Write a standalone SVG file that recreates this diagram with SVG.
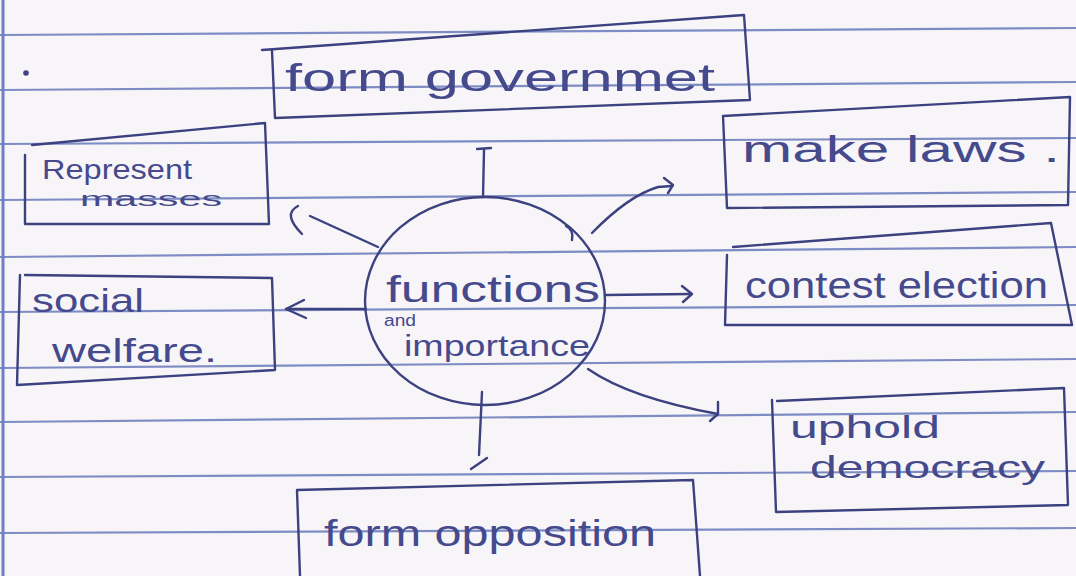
<svg xmlns="http://www.w3.org/2000/svg" width="1076" height="576" viewBox="0 0 1076 576">
  <defs>
    <style>
      .rule { stroke: #7e8cc4; stroke-width: 2.2; fill: none; }
      .ink { stroke: #3c417f; stroke-width: 2.4; fill: none; stroke-linecap: round; stroke-linejoin: round; }
      .txt { font-family: "Liberation Sans", "DejaVu Sans", sans-serif; fill: #454a8c; }
    </style>
  </defs>

  <!-- notebook page -->
  <rect width="1076" height="576" fill="#f8f5f9"/>
  <g id="ruling">
    <line class="rule" x1="0" y1="35" x2="1076" y2="28"/>
    <line class="rule" x1="0" y1="90" x2="1076" y2="82"/>
    <line class="rule" x1="0" y1="144" x2="1076" y2="138"/>
    <line class="rule" x1="0" y1="200" x2="1076" y2="192"/>
    <line class="rule" x1="0" y1="257" x2="1076" y2="247"/>
    <line class="rule" x1="0" y1="312" x2="1076" y2="305"/>
    <line class="rule" x1="0" y1="368" x2="1076" y2="359"/>
    <line class="rule" x1="0" y1="422" x2="1076" y2="412"/>
    <line class="rule" x1="0" y1="477" x2="1076" y2="471"/>
    <line class="rule" x1="0" y1="533" x2="1076" y2="528"/>
    <line x1="3" y1="0" x2="3" y2="576" stroke="#6f7fc4" stroke-width="3"/>
  </g>

  <circle cx="26" cy="73" r="2.8" fill="#3c417f"/>

  <!-- connectors -->
  <g id="connectors" class="ink">
    <!-- up: form government -->
    <path d="M483 197 L484 150"/>
    <path d="M477 149 L491 148"/>
    <!-- upper left: represent masses -->
    <path d="M378 247 L310 216"/>
    <path d="M298 206 Q282 214 302 234"/>
    <!-- left: social welfare -->
    <path d="M366 309 L286 309"/>
    <path d="M304 300 L286 309 L306 318"/>
    <!-- upper right: make laws -->
    <path d="M592 233 Q628 196 658 187 L672 186"/>
    <path d="M664 178 L673 185 L668 193"/>
    <path d="M566 226 Q574 230 572 240"/>
    <!-- right: contest election -->
    <path d="M606 295 L690 294"/>
    <path d="M682 286 L692 294 L683 302"/>
    <!-- lower right: uphold democracy -->
    <path d="M588 369 Q630 398 718 414"/>
    <path d="M718 402 L718 414 L710 421"/>
    <!-- down: form opposition -->
    <path d="M482 392 L479 455"/>
    <path d="M487 458 L471 469"/>
  </g>

  <!-- central topic -->
  <g id="center">
    <ellipse class="ink" cx="485" cy="301" rx="120" ry="104"/>
    <text class="txt" x="386" y="302" font-size="36" textLength="214" lengthAdjust="spacingAndGlyphs">functions</text>
    <text class="txt" x="384" y="326" font-size="16" textLength="32" lengthAdjust="spacingAndGlyphs">and</text>
    <text class="txt" x="404" y="356" font-size="29" textLength="186" lengthAdjust="spacingAndGlyphs">importance</text>
  </g>

  <g id="form-government">
    <path class="ink" d="M262 50 L744 15 L750 100 L275 118 L272 51"/>
    <text class="txt" x="285" y="91" font-size="38" textLength="430" lengthAdjust="spacingAndGlyphs">form governmet</text>
  </g>

  <g id="make-laws">
    <path class="ink" d="M723 116 L1070 97 L1068 205 L727 208 Z"/>
    <text class="txt" x="742" y="162" font-size="36" textLength="318" lengthAdjust="spacingAndGlyphs">make laws .</text>
  </g>

  <g id="represent-masses">
    <path class="ink" d="M32 145 L265 123 L269 224 L25 224 L25 155"/>
    <text class="txt" x="42" y="179" font-size="28" textLength="150" lengthAdjust="spacingAndGlyphs">Represent</text>
    <text class="txt" x="80" y="206" font-size="20" textLength="142" lengthAdjust="spacingAndGlyphs">masses</text>
  </g>

  <g id="social-welfare">
    <path class="ink" d="M25 275 L272 278 L275 370 L17 385 L20 275"/>
    <text class="txt" x="32" y="312" font-size="34" textLength="112" lengthAdjust="spacingAndGlyphs">social</text>
    <text class="txt" x="52" y="362" font-size="34" textLength="165" lengthAdjust="spacingAndGlyphs">welfare.</text>
  </g>

  <g id="contest-election">
    <path class="ink" d="M733 247 L1051 223 L1072 325 L725 325 L727 255"/>
    <text class="txt" x="745" y="298" font-size="36" textLength="303" lengthAdjust="spacingAndGlyphs">contest election</text>
  </g>

  <g id="uphold-democracy">
    <path class="ink" d="M777 401 L1064 388 L1068 505 L776 512 L772 400"/>
    <text class="txt" x="790" y="438" font-size="32" textLength="150" lengthAdjust="spacingAndGlyphs">uphold</text>
    <text class="txt" x="810" y="478" font-size="32" textLength="235" lengthAdjust="spacingAndGlyphs">democracy</text>
  </g>

  <g id="form-opposition">
    <path class="ink" d="M297 490 L693 480 L700 576 M297 490 L300 576"/>
    <text class="txt" x="324" y="546" font-size="36" textLength="332" lengthAdjust="spacingAndGlyphs">form opposition</text>
  </g>
</svg>
